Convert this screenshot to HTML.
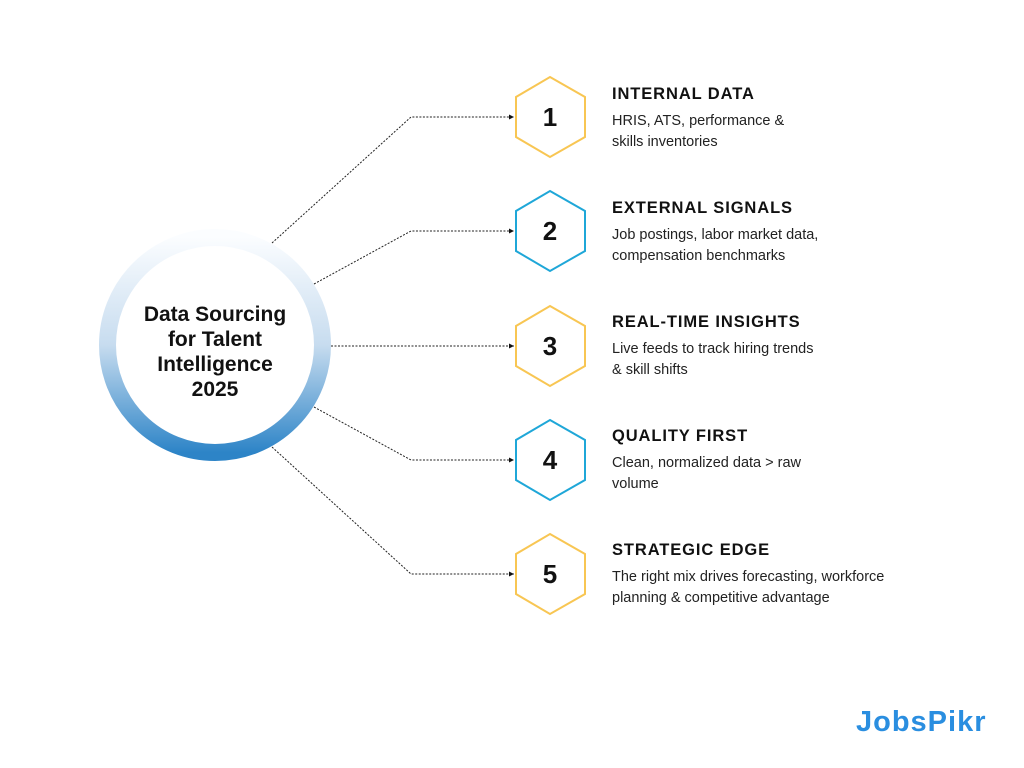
<!DOCTYPE html>
<html><head><style>
body{margin:0;width:1024px;height:768px;background:#fff;font-family:"Liberation Sans",sans-serif;position:relative;overflow:hidden}
.t{position:absolute;left:612px;font-weight:bold;font-size:16.5px;letter-spacing:0.9px;color:#111}
.d{position:absolute;left:612px;font-size:14.5px;line-height:21px;color:#222}
</style></head><body>
<svg width="1024" height="768" style="position:absolute;left:0;top:0">
<defs>
<linearGradient id="g" x1="0" y1="0" x2="0" y2="1">
<stop offset="0" stop-color="#fbfdff"/><stop offset="0.5" stop-color="#c7dcef"/><stop offset="1" stop-color="#2d84c7"/></linearGradient>
<marker id="a" markerWidth="6" markerHeight="6" refX="5" refY="3" orient="auto"><path d="M0,0.5 L5,3 L0,5.5z" fill="#111"/></marker>
</defs>
<circle cx="215" cy="345" r="107.5" fill="#fff" stroke="url(#g)" stroke-width="17"/>
<g fill="none" stroke="#222" stroke-width="1" stroke-dasharray="2,1.5" marker-end="url(#a)">
<polyline points="272,243 411,117 514,117"/>
<polyline points="314,284 411,231 514,231"/>
<polyline points="331,346 514,346"/>
<polyline points="314,407 411,460 514,460"/>
<polyline points="272,447 411,574 514,574"/>
</g>
<g fill="#fff" stroke-width="2">
<polygon points="550,77 585,97 585,137 550,157 516,137 516,97" stroke="#f8c653"/>
<polygon points="550,191 585,211 585,251 550,271 516,251 516,211" stroke="#1fa7d8"/>
<polygon points="550,306 585,326 585,366 550,386 516,366 516,326" stroke="#f8c653"/>
<polygon points="550,420 585,440 585,480 550,500 516,480 516,440" stroke="#1fa7d8"/>
<polygon points="550,534 585,554 585,594 550,614 516,594 516,554" stroke="#f8c653"/>
</g>
<g font-family="Liberation Sans" font-weight="bold" font-size="26" text-anchor="middle" fill="#111">
<text x="550" y="126">1</text><text x="550" y="240">2</text><text x="550" y="355">3</text><text x="550" y="469">4</text><text x="550" y="583">5</text>
</g>
<g font-family="Liberation Sans" font-weight="bold" font-size="21" text-anchor="middle" fill="#111">
<text x="215" y="321">Data Sourcing</text><text x="215" y="346">for Talent</text><text x="215" y="371">Intelligence</text><text x="215" y="396">2025</text>
</g>
<text x="856" y="731" font-family="Liberation Sans" font-weight="bold" font-size="29" fill="#2a8ee0" letter-spacing="1">JobsPikr</text>
</svg>
<div class="t" style="top:85px">INTERNAL DATA</div>
<div class="d" style="top:111px">HRIS, ATS, performance &amp;<br>skills inventories</div>
<div class="t" style="top:199px">EXTERNAL SIGNALS</div>
<div class="d" style="top:225px">Job postings, labor market data,<br>compensation benchmarks</div>
<div class="t" style="top:313px">REAL-TIME INSIGHTS</div>
<div class="d" style="top:339px">Live feeds to track hiring trends<br>&amp; skill shifts</div>
<div class="t" style="top:427px">QUALITY FIRST</div>
<div class="d" style="top:453px">Clean, normalized data &gt; raw<br>volume</div>
<div class="t" style="top:541px">STRATEGIC EDGE</div>
<div class="d" style="top:567px">The right mix drives forecasting, workforce<br>planning &amp; competitive advantage</div>
</body></html>
